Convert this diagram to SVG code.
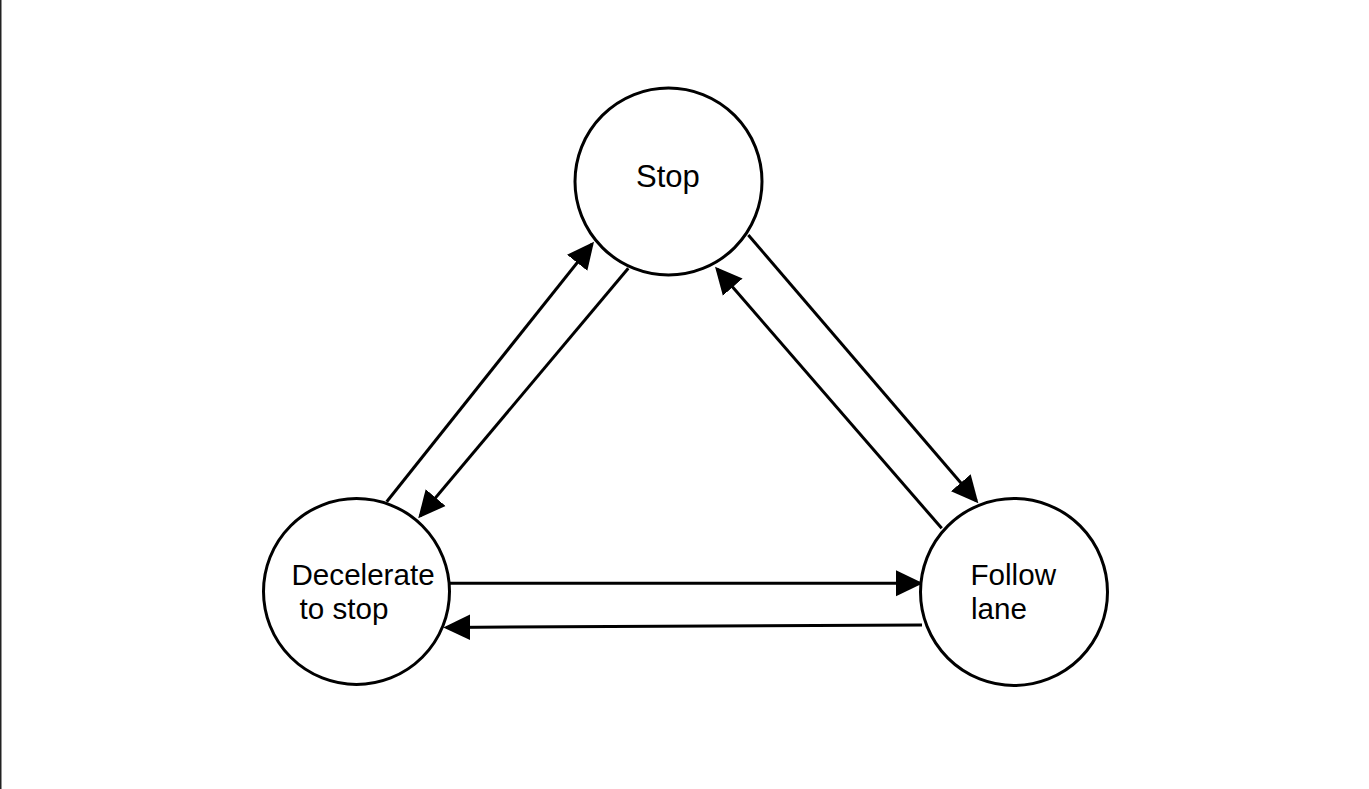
<svg xmlns="http://www.w3.org/2000/svg" width="1369" height="789" viewBox="0 0 1369 789">
<defs>
<style>
.node circle{fill:#fff;stroke:#000;stroke-width:3}
.lbl{font-family:"Liberation Sans",Arial,Helvetica,sans-serif;font-size:29.6px;fill:#000}
.edge{fill:none;stroke:#000;stroke-width:3}
</style>
<marker id="ah" markerUnits="userSpaceOnUse" markerWidth="28" markerHeight="28" viewBox="0 0 28 26" refX="24" refY="13" orient="auto">
<path d="M0,0 L27,13 L0,26 Z" fill="#000"/>
</marker>
</defs>
<rect x="0" y="0" width="1369" height="789" fill="#fff"/>
<rect x="0" y="0" width="1.5" height="789" fill="#222"/>
<g id="connectors">
<path class="edge" d="M386.7,501.7 L592.1,244.0" marker-end="url(#ah)"/>
<path class="edge" d="M628.3,268.3 L420.2,516.0" marker-end="url(#ah)"/>
<path class="edge" d="M748.3,235 L976.4,501.0" marker-end="url(#ah)"/>
<path class="edge" d="M941.7,528.3 L717,269" marker-end="url(#ah)"/>
<path class="edge" d="M450,583.3 L920,583.3" marker-end="url(#ah)"/>
<path class="edge" d="M922,625 L446.3,627.4" marker-end="url(#ah)"/>
</g>
<g id="stop" class="node">
<circle cx="668.5" cy="181.5" r="93.5"/>
<text class="lbl" x="636" y="187" style="font-size:31px">Stop</text>
</g>
<g id="decelerate" class="node">
<circle cx="356.5" cy="591.5" r="93"/>
<text class="lbl" x="291.5" y="585">Decelerate</text>
<text class="lbl" x="299.5" y="618.5">to stop</text>
</g>
<g id="follow" class="node">
<circle cx="1014" cy="592" r="93.5"/>
<text class="lbl" x="970.5" y="584.5">Follow</text>
<text class="lbl" x="971" y="618.5">lane</text>
</g>
</svg>
